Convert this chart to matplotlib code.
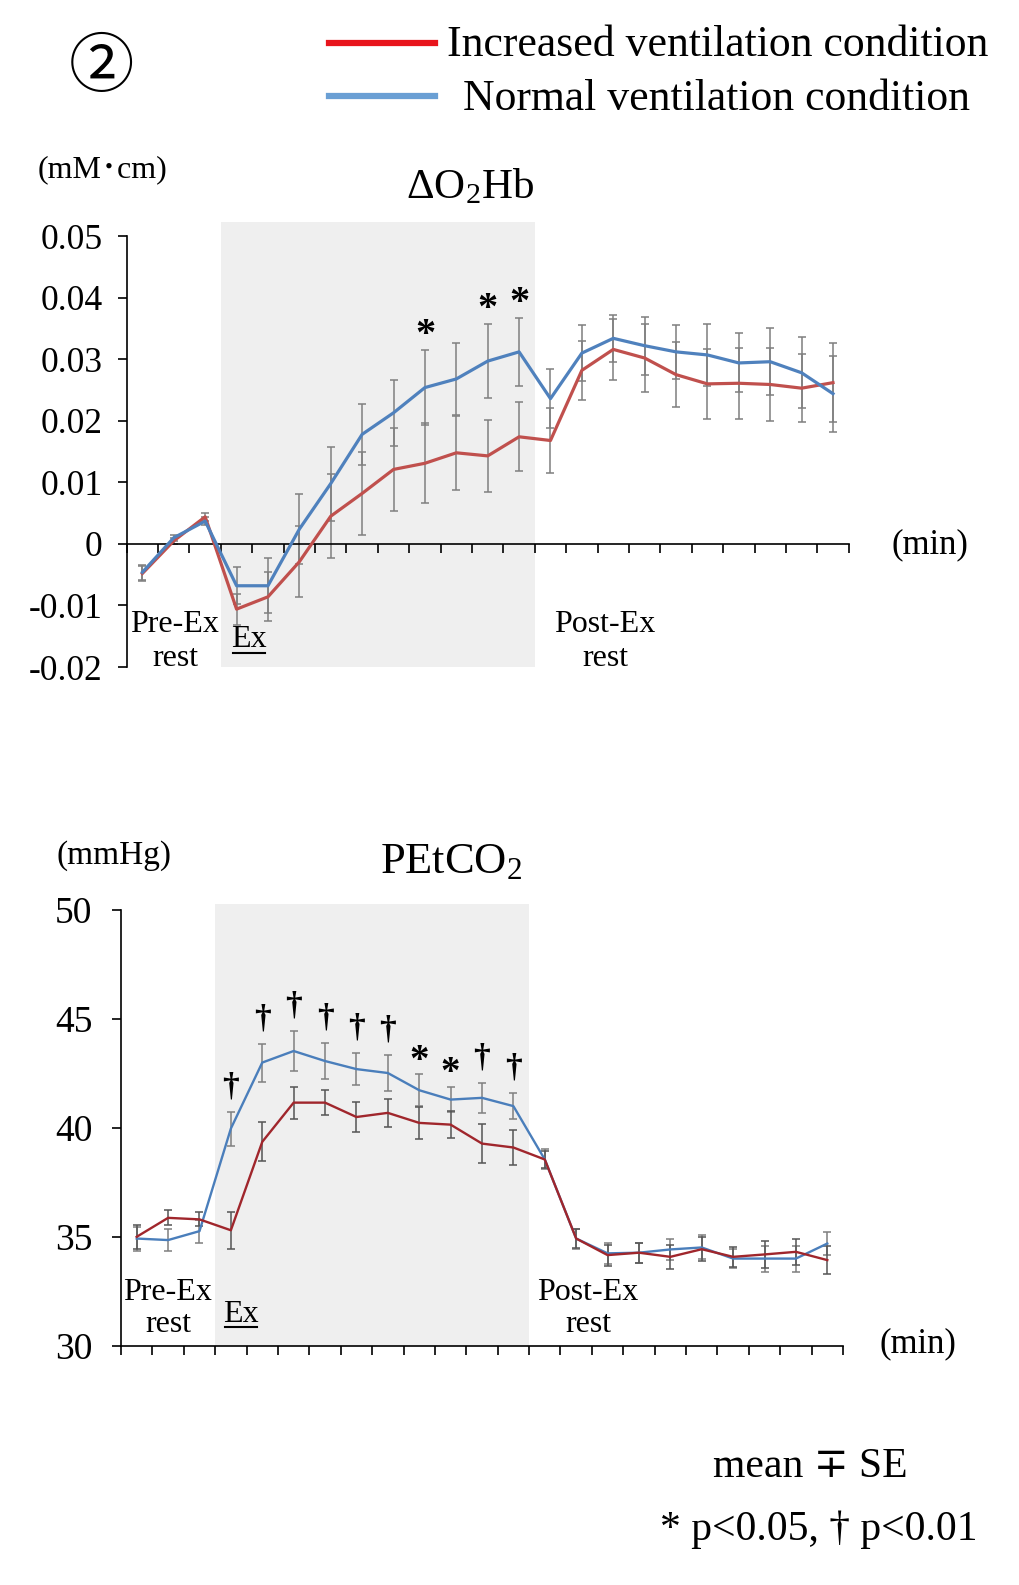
import numpy as np
import matplotlib
matplotlib.use("Agg")
import matplotlib.pyplot as plt
from matplotlib.lines import Line2D

plt.rcParams['font.family'] = ['Liberation Serif', 'DejaVu Serif', 'Noto Sans CJK JP']
plt.rcParams['mathtext.fontset'] = 'custom'
plt.rcParams['mathtext.rm'] = 'Liberation Serif'
plt.rcParams['mathtext.it'] = 'Liberation Serif:italic'

#-------------------- data --------------------
n_pts = 23
ex_start, ex_end = 3, 13          # shaded exercise period (point index)

o2hb_inc    = [-0.0048, 0.0005, 0.0044, -0.0106, -0.0086, -0.0029, 0.0045, 0.0082, 0.0121, 0.0131,
               0.0148, 0.0143, 0.0174, 0.0168, 0.0282, 0.0316, 0.0302, 0.0275, 0.0260, 0.0261,
               0.0259, 0.0253, 0.0262]
o2hb_inc_se = [0.0012, 0.0005, 0.0007, 0.0025, 0.0040, 0.0058, 0.0068, 0.0068, 0.0067, 0.0065,
               0.0060, 0.0058, 0.0056, 0.0053, 0.0048, 0.0049, 0.0056, 0.0053, 0.0057, 0.0058,
               0.0059, 0.0055, 0.0064]
o2hb_nor    = [-0.0046, 0.0010, 0.0037, -0.0068, -0.0068, 0.0024, 0.0098, 0.0178, 0.0213, 0.0254,
               0.0268, 0.0297, 0.0312, 0.0236, 0.0310, 0.0334, 0.0322, 0.0312, 0.0307, 0.0294,
               0.0296, 0.0278, 0.0244]
o2hb_nor_se = [0.0012, 0.0005, 0.0007, 0.0030, 0.0045, 0.0057, 0.0060, 0.0050, 0.0054, 0.0061,
               0.0058, 0.0060, 0.0055, 0.0048, 0.0045, 0.0038, 0.0047, 0.0044, 0.0051, 0.0048,
               0.0054, 0.0058, 0.0062]
o2hb_sig_idx  = [9, 11, 12]
o2hb_sig_mark = ['*', '*', '*']

co2_inc    = [35.00, 35.87, 35.80, 35.30, 39.36, 41.16, 41.16, 40.50, 40.69, 40.23,
              40.15, 39.28, 39.10, 38.55, 34.92, 34.16, 34.27, 34.08, 34.43, 34.08,
              34.19, 34.31, 33.93]
co2_inc_se = [0.55, 0.35, 0.32, 0.84, 0.90, 0.73, 0.57, 0.67, 0.63, 0.73,
              0.61, 0.88, 0.80, 0.40, 0.45, 0.48, 0.46, 0.55, 0.55, 0.45,
              0.60, 0.60, 0.66]
co2_nor    = [34.92, 34.85, 35.26, 39.97, 43.00, 43.53, 43.07, 42.70, 42.52, 41.73,
              41.30, 41.38, 41.00, 38.55, 34.92, 34.24, 34.27, 34.42, 34.51, 34.00,
              34.00, 34.00, 34.69]
co2_nor_se = [0.55, 0.50, 0.53, 0.78, 0.87, 0.90, 0.83, 0.73, 0.81, 0.74,
              0.58, 0.70, 0.61, 0.46, 0.46, 0.48, 0.46, 0.50, 0.55, 0.45,
              0.60, 0.60, 0.54]
co2_sig_idx  = [3, 4, 5, 6, 7, 8, 9, 10, 11, 12]
co2_sig_mark = ['†', '†', '†', '†', '†', '†', '*', '*', '†', '†']

o2hb_ticks = [-0.02, -0.01, 0, 0.01, 0.02, 0.03, 0.04, 0.05]
o2hb_ticklabels = ['-0.02', '-0.01', '0', '0.01', '0.02', '0.03', '0.04', '0.05']
co2_ticks = [30, 35, 40, 45, 50]

#-------------------- figure --------------------
W, H = 1020, 1585
fig = plt.figure(figsize=(W/100, H/100), dpi=100)

def fx(px):
    return px / W
def fy(py):
    return 1 - py / H

c_red  = '#C0504D'
c_blue = '#4F81BD'
c_err  = '#7F7F7F'
x = np.arange(n_pts)

def setup(ax, ymin, ymax, ytop):
    ax.axvspan(ex_start - 0.5, ex_end - 0.5, color='#EFEFEF', zorder=0, lw=0)
    ax.set_xlim(-0.5, n_pts - 0.5)
    ax.set_ylim(ymin, ytop)
    for s in ['top', 'right']:
        ax.spines[s].set_visible(False)
    ax.spines['left'].set_bounds(ymin, ymax)
    ax.spines['left'].set_linewidth(1.2)
    ax.spines['bottom'].set_linewidth(1.2)
    ax.set_xticks(np.arange(-0.5, n_pts, 1))
    ax.set_xticklabels([])
    ax.tick_params(axis='both', direction='out', length=6.5, width=1.2, color='k')
    ax.patch.set_alpha(0)

def ex_label(px, py):
    # underlined "Ex"
    fig.text(fx(px), fy(py), 'Ex', fontsize=23, ha='center', va='center')
    fig.add_artist(Line2D([fx(px - 16), fx(px + 16)], [fy(py + 13), fy(py + 13)], color='k', lw=1.5))

#----------- ΔO2Hb -----------
ax1 = fig.add_axes([fx(126.7), fy(667), fx(848.7) - fx(126.7), fy(222) - fy(667)])
setup(ax1, -0.02, 0.05, 0.0523)
ax1.spines['bottom'].set_position(('data', 0))
ax1.set_yticks(o2hb_ticks)
ax1.set_yticklabels(o2hb_ticklabels, fontsize=25.5)
ax1.tick_params(axis='y', pad=11)
ax1.errorbar(x, o2hb_inc, yerr=o2hb_inc_se, fmt='none', ecolor=c_err, elinewidth=1.1,
             capsize=3, capthick=1.1, zorder=2)
ax1.errorbar(x, o2hb_nor, yerr=o2hb_nor_se, fmt='none', ecolor=c_err, elinewidth=1.1,
             capsize=3, capthick=1.1, zorder=2)
ax1.plot(x, o2hb_inc, color=c_red, lw=2.3, zorder=3)
ax1.plot(x, o2hb_nor, color=c_blue, lw=2.3, zorder=4)
for i, m in zip(o2hb_sig_idx, o2hb_sig_mark):
    ax1.text(i, o2hb_nor[i] + o2hb_nor_se[i] + 0.0024, m, ha='center', va='center',
             fontsize=29, fontweight='bold')

#----------- PEtCO2 -----------
ax2 = fig.add_axes([fx(121), fy(1345.7), fx(843) - fx(121), fy(904) - fy(1345.7)])
setup(ax2, 30, 50, 50.28)
ax2.set_yticks(co2_ticks)
ax2.set_yticklabels([str(t) for t in co2_ticks], fontsize=27)
ax2.tick_params(axis='y', pad=14)
ax2.errorbar(x, co2_nor, yerr=co2_nor_se, fmt='none', ecolor=c_err, elinewidth=1.1,
             capsize=3, capthick=1.1, zorder=2)
ax2.errorbar(x, co2_inc, yerr=co2_inc_se, fmt='none', ecolor='#555555', elinewidth=1.1,
             capsize=3, capthick=1.1, zorder=2)
ax2.plot(x, co2_nor, color='#4A7EBB', lw=1.7, zorder=3)
ax2.plot(x, co2_inc, color='#A0262C', lw=1.7, zorder=4)
for i, m in zip(co2_sig_idx, co2_sig_mark):
    if m == '*':
        ax2.text(i, co2_nor[i] + co2_nor_se[i] + 0.6, m, ha='center', va='center',
                 fontsize=28, fontweight='bold')
    else:
        ax2.text(i, co2_nor[i] + co2_nor_se[i] + 1.15, m, ha='center', va='center',
                 fontsize=24, fontweight='bold')

#----------- texts -----------
fig.text(fx(101), fy(69), '②', fontsize=47, ha='center', va='center',
         family=['Noto Sans CJK JP', 'DejaVu Sans'])
fig.add_artist(Line2D([fx(329), fx(435)], [fy(43), fy(43)], color='#E8141C', lw=4.5))
fig.add_artist(Line2D([fx(329), fx(435)], [fy(96), fy(96)], color='#6A9FD4', lw=4.5))
fig.text(fx(447), fy(45), 'Increased ventilation condition', fontsize=31.5, ha='left', va='center')
fig.text(fx(463), fy(99), 'Normal ventilation condition', fontsize=31.5, ha='left', va='center')

fig.text(fx(103), fy(170), '(mM･cm)', fontsize=23, ha='center', va='center')
fig.text(fx(470), fy(187), 'ΔO$_2$Hb', fontsize=31, ha='center', va='center')
fig.text(fx(930), fy(545), '(min)', fontsize=25, ha='center', va='center')
fig.text(fx(175), fy(625), 'Pre-Ex', fontsize=23, ha='center', va='center')
fig.text(fx(175), fy(658), 'rest', fontsize=23, ha='center', va='center')
ex_label(249, 640)
fig.text(fx(605), fy(625), 'Post-Ex', fontsize=23, ha='center', va='center')
fig.text(fx(605), fy(658), 'rest', fontsize=23, ha='center', va='center')

fig.text(fx(114), fy(856), '(mmHg)', fontsize=24, ha='center', va='center')
fig.text(fx(451), fy(862), 'PEtCO$_2$', fontsize=32, ha='center', va='center')
fig.text(fx(918), fy(1344), '(min)', fontsize=25, ha='center', va='center')
fig.text(fx(168), fy(1292), 'Pre-Ex', fontsize=23, ha='center', va='center')
fig.text(fx(168), fy(1325), 'rest', fontsize=23, ha='center', va='center')
ex_label(241, 1314)
fig.text(fx(588), fy(1292), 'Post-Ex', fontsize=23, ha='center', va='center')
fig.text(fx(588), fy(1325), 'rest', fontsize=23, ha='center', va='center')

fig.text(fx(810), fy(1467), 'mean ∓ SE', fontsize=30, ha='center', va='center')
fig.text(fx(819), fy(1530), '* p<0.05, † p<0.01', fontsize=30, ha='center', va='center')

fig.savefig('out.png', dpi=100)
